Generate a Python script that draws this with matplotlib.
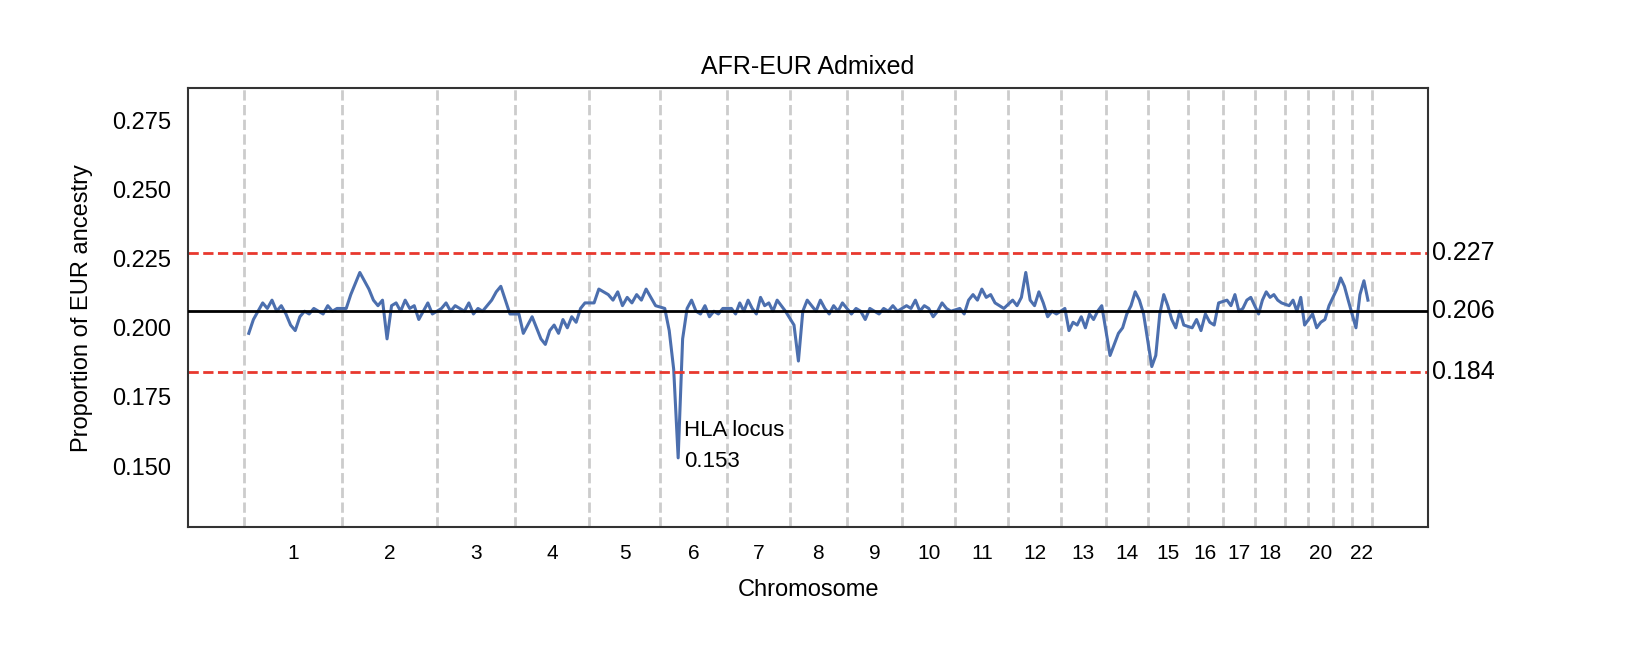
import numpy as np
import matplotlib.pyplot as plt

plt.rcParams['font.family'] = ['Liberation Sans', 'DejaVu Sans']

chrom_len = [249, 243, 198, 191, 181, 171, 159, 146, 141, 136, 135,
             134, 115, 107, 102, 90, 81, 78, 59, 63, 48, 51]
chrom_labels = ['1', '2', '3', '4', '5', '6', '7', '8', '9', '10', '11',
                '12', '13', '14', '15', '16', '17', '18', '', '20', '', '22']

eur = [
    [0.198, 0.203, 0.206, 0.209, 0.207, 0.210, 0.206, 0.208, 0.205, 0.201, 0.199, 0.204, 0.206, 0.205, 0.207, 0.206, 0.205, 0.208, 0.206, 0.207],
    [0.207, 0.212, 0.216, 0.220, 0.217, 0.214, 0.210, 0.208, 0.210, 0.196, 0.208, 0.209, 0.206, 0.210, 0.207, 0.208, 0.203, 0.206, 0.209, 0.205],
    [0.207, 0.209, 0.206, 0.208, 0.207, 0.206, 0.209, 0.205, 0.207, 0.206, 0.208, 0.210, 0.213, 0.215, 0.210, 0.205],
    [0.205, 0.198, 0.201, 0.204, 0.200, 0.196, 0.194, 0.199, 0.201, 0.198, 0.203, 0.200, 0.204, 0.202, 0.207, 0.209],
    [0.209, 0.214, 0.213, 0.212, 0.210, 0.213, 0.208, 0.211, 0.209, 0.212, 0.210, 0.214, 0.211, 0.208],
    [0.207, 0.199, 0.185, 0.153, 0.196, 0.207, 0.210, 0.206, 0.205, 0.208, 0.204, 0.206, 0.205, 0.207],
    [0.207, 0.205, 0.209, 0.206, 0.210, 0.207, 0.205, 0.211, 0.208, 0.209, 0.206, 0.210, 0.208, 0.206],
    [0.201, 0.188, 0.206, 0.210, 0.208, 0.206, 0.210, 0.207, 0.205, 0.208, 0.206, 0.209],
    [0.205, 0.207, 0.206, 0.203, 0.207, 0.206, 0.205, 0.207, 0.206, 0.208, 0.206],
    [0.208, 0.207, 0.210, 0.206, 0.208, 0.207, 0.204, 0.206, 0.209, 0.207, 0.206],
    [0.207, 0.205, 0.210, 0.212, 0.210, 0.214, 0.211, 0.212, 0.209, 0.208, 0.207],
    [0.210, 0.208, 0.211, 0.220, 0.210, 0.208, 0.213, 0.209, 0.204, 0.206, 0.205],
    [0.207, 0.199, 0.202, 0.201, 0.204, 0.200, 0.205, 0.203, 0.206, 0.208],
    [0.190, 0.194, 0.198, 0.200, 0.205, 0.208, 0.213, 0.210, 0.205],
    [0.186, 0.190, 0.205, 0.212, 0.208, 0.203, 0.200, 0.206, 0.201],
    [0.200, 0.203, 0.199, 0.205, 0.202, 0.201, 0.209],
    [0.210, 0.208, 0.212, 0.206, 0.207, 0.210, 0.211],
    [0.205, 0.210, 0.213, 0.211, 0.212, 0.210, 0.209],
    [0.208, 0.210, 0.206, 0.211, 0.201],
    [0.205, 0.200, 0.202, 0.203, 0.208],
    [0.214, 0.218, 0.215, 0.210],
    [0.200, 0.212, 0.217, 0.210],
]
mean_val = 0.206
upper, lower = 0.227, 0.184
hla_val = 0.153

starts = np.concatenate([[0], np.cumsum(chrom_len)[:-1]])
ends = np.cumsum(chrom_len)
xs, ys = [], []
for s, e, v in zip(starts, ends, eur):
    xs.extend(np.linspace(s, e, len(v) + 2)[1:-1])
    ys.extend(v)

fig = plt.figure(figsize=(16.44, 6.58), dpi=100)
ax = fig.add_axes([0.1144, 0.199, 0.7542, 0.667])
for b in np.concatenate([[0], ends]):
    ax.axvline(b, color='#cccccc', ls='--', lw=2, zorder=0)
ax.plot(xs, ys, color='#4c6fae', lw=2.2, zorder=2)
ax.axhline(mean_val, color='black', lw=2, zorder=3)
ax.axhline(upper, color='#e8382e', ls='--', lw=2)
ax.axhline(lower, color='#e8382e', ls='--', lw=2)

total = ends[-1]
ax.set_xlim(-143, total + 143)
ax.set_ylim(0.128, 0.2866)
for v in [upper, mean_val, lower]:
    ax.text(1.003, v, f'{v:.3f}', transform=ax.get_yaxis_transform(),
            va='center', ha='left', fontsize=18)

hla_x = starts[5] + chrom_len[5] * 4 / 15
ax.text(hla_x + 15, hla_val - 0.005, f'HLA locus\n{hla_val}', fontsize=16,
        va='bottom', ha='left', linespacing=1.6)

ax.set_xticks((starts + ends) / 2)
ax.set_xticklabels(chrom_labels, fontsize=15)
ax.set_yticks([0.150, 0.175, 0.200, 0.225, 0.250, 0.275])
ax.set_yticklabels(['0.150', '0.175', '0.200', '0.225', '0.250', '0.275'], fontsize=17)
ax.tick_params(length=0, pad=12)
for sp in ax.spines.values():
    sp.set_color('#333333')
    sp.set_linewidth(1.5)
ax.set_xlabel('Chromosome', fontsize=17, labelpad=12)
ax.set_ylabel('Proportion of EUR ancestry', fontsize=17, labelpad=14)
ax.set_title('AFR-EUR Admixed', fontsize=18, pad=10)

fig.savefig('out.png', dpi=100)
